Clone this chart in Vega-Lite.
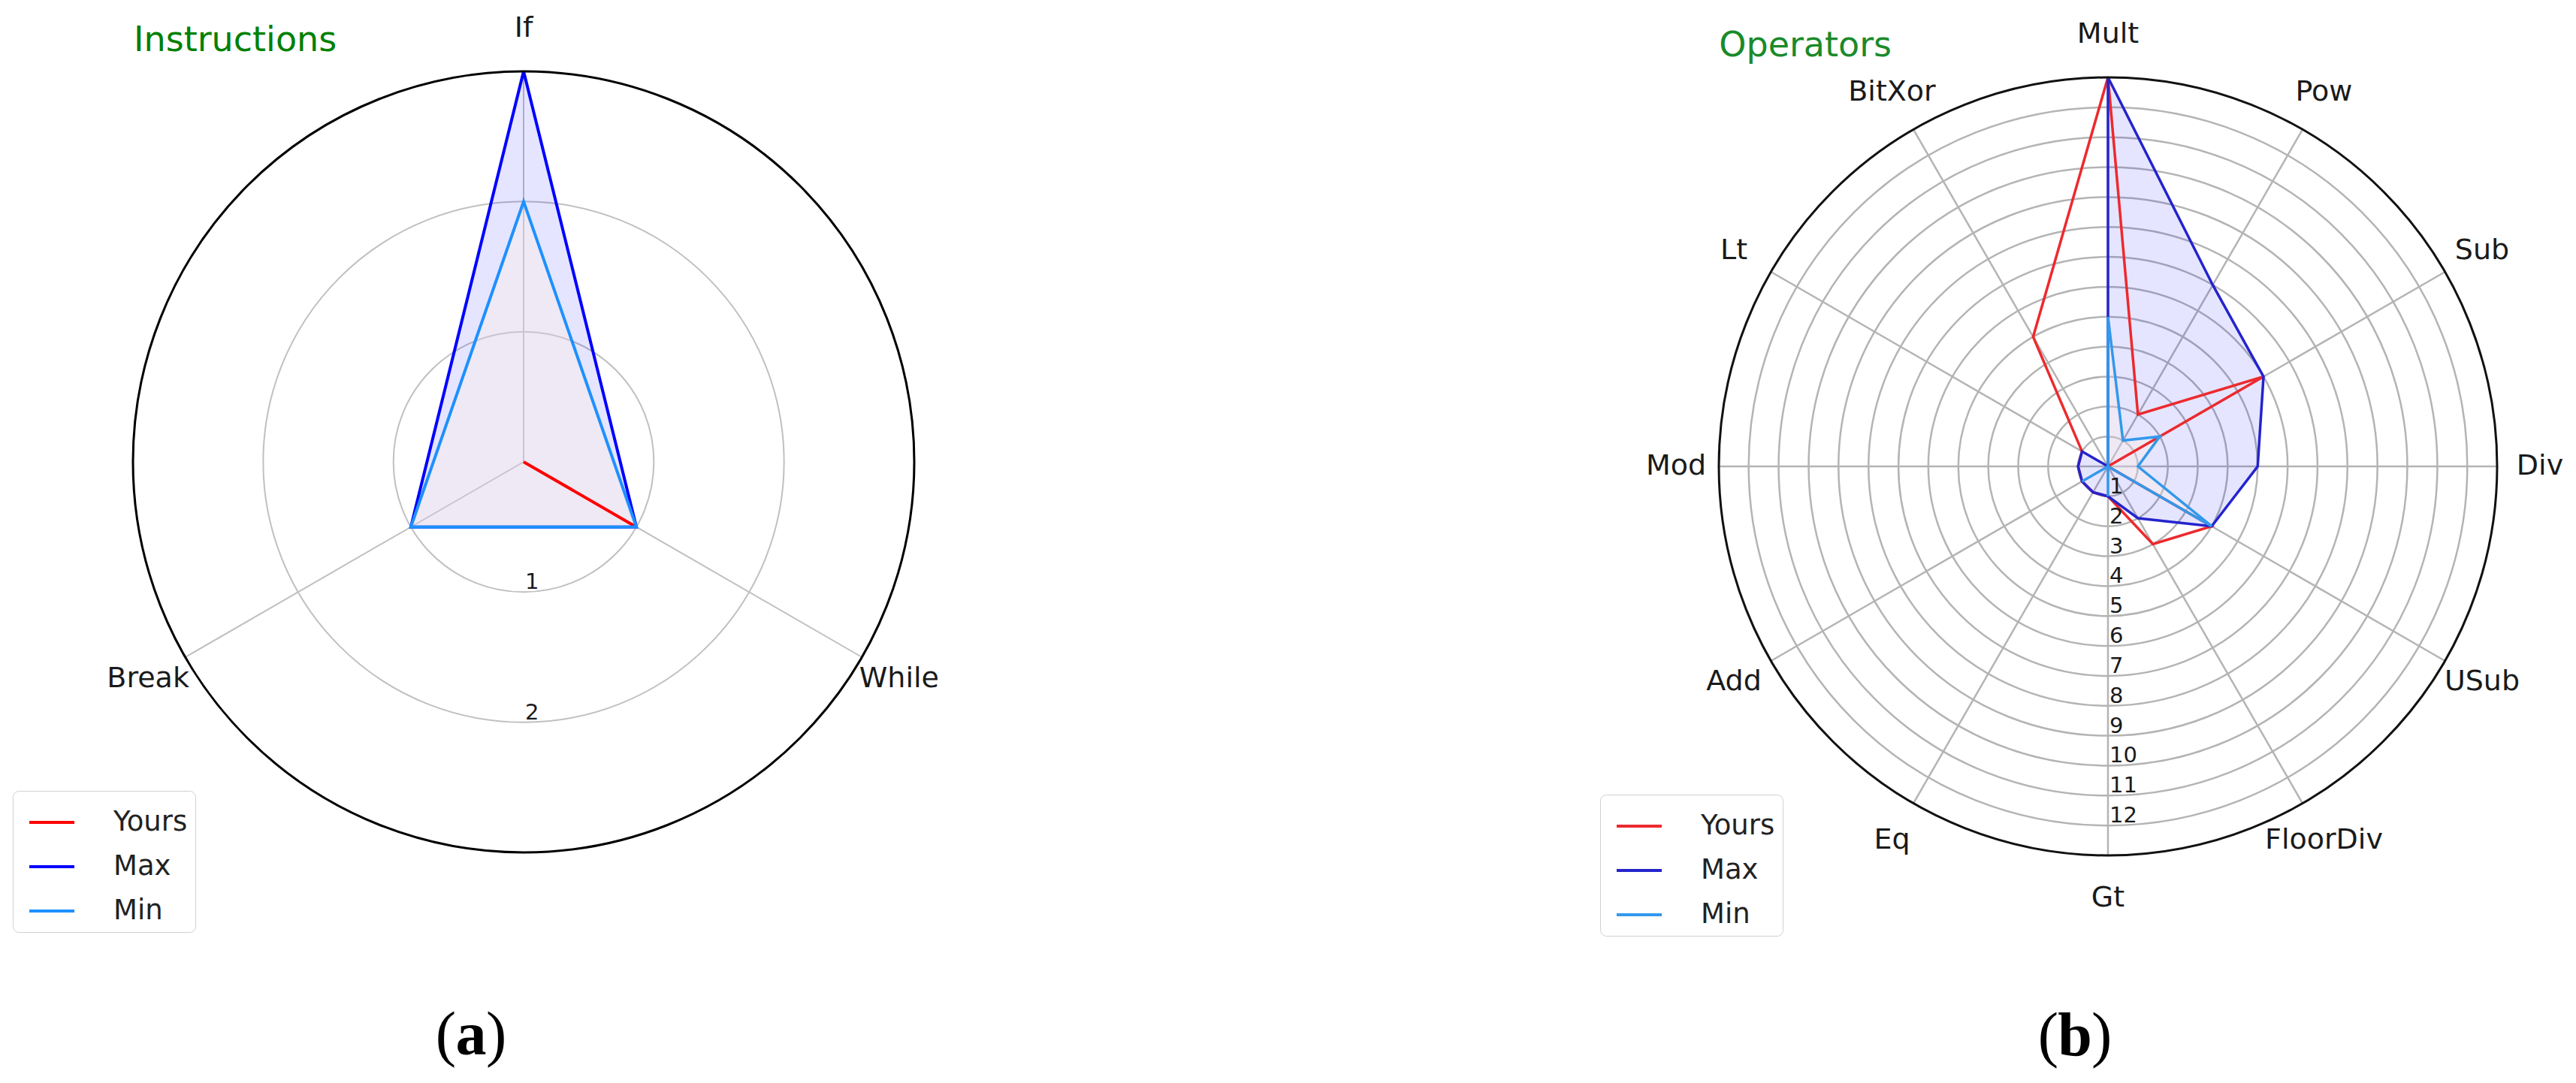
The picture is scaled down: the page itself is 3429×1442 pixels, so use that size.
{
  "$schema": "https://vega.github.io/schema/vega-lite/v6.json",
  "padding": 0,
  "spacing": 0,
  "bounds": "flush",
  "background": "white",
  "config": {"view": {"stroke": null}, "font": "DejaVu Sans"},
  "datasets": {
    "instr": [
      {"series": "Yours", "axis": "If", "value": 0},
      {"series": "Yours", "axis": "While", "value": 1},
      {"series": "Yours", "axis": "Break", "value": 0},
      {"series": "Max", "axis": "If", "value": 3},
      {"series": "Max", "axis": "While", "value": 1},
      {"series": "Max", "axis": "Break", "value": 1},
      {"series": "Min", "axis": "If", "value": 2},
      {"series": "Min", "axis": "While", "value": 1},
      {"series": "Min", "axis": "Break", "value": 1}
    ],
    "instrTicks": [{"tick": 1}, {"tick": 2}],
    "ops": [
      {"series": "Yours", "axis": "Mult", "value": 13},
      {"series": "Yours", "axis": "Pow", "value": 2},
      {"series": "Yours", "axis": "Sub", "value": 6},
      {"series": "Yours", "axis": "Div", "value": 0},
      {"series": "Yours", "axis": "USub", "value": 4},
      {"series": "Yours", "axis": "FloorDiv", "value": 3},
      {"series": "Yours", "axis": "Gt", "value": 1},
      {"series": "Yours", "axis": "Eq", "value": 1},
      {"series": "Yours", "axis": "Add", "value": 1},
      {"series": "Yours", "axis": "Mod", "value": 1},
      {"series": "Yours", "axis": "Lt", "value": 1},
      {"series": "Yours", "axis": "BitXor", "value": 5},
      {"series": "Max", "axis": "Mult", "value": 13},
      {"series": "Max", "axis": "Pow", "value": 7},
      {"series": "Max", "axis": "Sub", "value": 6},
      {"series": "Max", "axis": "Div", "value": 5},
      {"series": "Max", "axis": "USub", "value": 4},
      {"series": "Max", "axis": "FloorDiv", "value": 2},
      {"series": "Max", "axis": "Gt", "value": 1},
      {"series": "Max", "axis": "Eq", "value": 1},
      {"series": "Max", "axis": "Add", "value": 1},
      {"series": "Max", "axis": "Mod", "value": 1},
      {"series": "Max", "axis": "Lt", "value": 1},
      {"series": "Max", "axis": "BitXor", "value": 0},
      {"series": "Min", "axis": "Mult", "value": 5},
      {"series": "Min", "axis": "Pow", "value": 1},
      {"series": "Min", "axis": "Sub", "value": 2},
      {"series": "Min", "axis": "Div", "value": 1},
      {"series": "Min", "axis": "USub", "value": 4},
      {"series": "Min", "axis": "FloorDiv", "value": 0},
      {"series": "Min", "axis": "Gt", "value": 1},
      {"series": "Min", "axis": "Eq", "value": 0},
      {"series": "Min", "axis": "Add", "value": 1},
      {"series": "Min", "axis": "Mod", "value": 0},
      {"series": "Min", "axis": "Lt", "value": 0},
      {"series": "Min", "axis": "BitXor", "value": 0}
    ],
    "opsTicks": [{"tick": 1}, {"tick": 2}, {"tick": 3}, {"tick": 4}, {"tick": 5}, {"tick": 6}, {"tick": 7}, {"tick": 8}, {"tick": 9}, {"tick": 10}, {"tick": 11}, {"tick": 12}]
  },
  "resolve": {"scale": {"x": "independent", "y": "independent", "radius": "independent", "color": "independent"}, "legend": {"color": "independent"}},
  "hconcat": [
    {
      "width": 1714,
      "height": 1442,
      "layer": [
        {
          "data": {"name": "instrTicks"},
          "mark": {"type": "arc", "filled": false, "stroke": "#c0c0c0", "strokeWidth": 2, "theta": 0, "theta2": 6.2832},
          "encoding": {
            "x": {"datum": 0, "type": "quantitative", "scale": {"domain": [-4.02115, 5.86731], "nice": false, "zero": false}, "axis": null},
            "y": {"datum": 0, "type": "quantitative", "scale": {"domain": [-4.77115, 3.54808], "nice": false, "zero": false}, "axis": null},
            "radius": {"field": "tick", "type": "quantitative", "stack": null, "scale": {"type": "linear", "domain": [0, 3], "range": [0, 520], "zero": true}}
          }
        },
        {
          "data": {"name": "instr"},
          "transform": [
            {"filter": "datum.series === 'Max'"},
            {"window": [{"op": "row_number", "as": "idx"}]},
            {"calculate": "PI/2 - 2*PI*(datum.idx-1)/3", "as": "ang"},
            {"calculate": "3*cos(datum.ang)", "as": "ex"},
            {"calculate": "3*sin(datum.ang)", "as": "ey"}
          ],
          "mark": {"type": "rule", "stroke": "#c0c0c0", "strokeWidth": 2},
          "encoding": {
            "x": {"field": "ex", "type": "quantitative", "scale": {"domain": [-4.02115, 5.86731], "nice": false, "zero": false}, "axis": null},
            "y": {"field": "ey", "type": "quantitative", "scale": {"domain": [-4.77115, 3.54808], "nice": false, "zero": false}, "axis": null},
            "x2": {"datum": 0},
            "y2": {"datum": 0}
          }
        },
        {
          "data": {"name": "instr"},
          "transform": [
            {"filter": "datum.series === 'Max'"},
            {"window": [{"op": "row_number", "as": "idx"}]},
            {"calculate": "PI/2 - 2*PI*(datum.idx-1)/3", "as": "ang"},
            {"calculate": "datum.value*cos(datum.ang)", "as": "px"},
            {"calculate": "datum.value*sin(datum.ang)", "as": "py"}
          ],
          "mark": {"type": "line", "interpolate": "linear-closed", "fill": "#0000ff", "fillOpacity": 0.1, "strokeWidth": 0},
          "encoding": {
            "x": {"field": "px", "type": "quantitative", "scale": {"domain": [-4.02115, 5.86731], "nice": false, "zero": false}, "axis": null},
            "y": {"field": "py", "type": "quantitative", "scale": {"domain": [-4.77115, 3.54808], "nice": false, "zero": false}, "axis": null},
            "order": {"field": "idx", "type": "quantitative"}
          }
        },
        {
          "data": {"name": "instr"},
          "transform": [
            {"filter": "datum.series === 'Min'"},
            {"window": [{"op": "row_number", "as": "idx"}]},
            {"calculate": "PI/2 - 2*PI*(datum.idx-1)/3", "as": "ang"},
            {"calculate": "datum.value*cos(datum.ang)", "as": "px"},
            {"calculate": "datum.value*sin(datum.ang)", "as": "py"}
          ],
          "mark": {"type": "line", "interpolate": "linear-closed", "fill": "#fff0e0", "fillOpacity": 0.35, "strokeWidth": 0},
          "encoding": {
            "x": {"field": "px", "type": "quantitative", "scale": {"domain": [-4.02115, 5.86731], "nice": false, "zero": false}, "axis": null},
            "y": {"field": "py", "type": "quantitative", "scale": {"domain": [-4.77115, 3.54808], "nice": false, "zero": false}, "axis": null},
            "order": {"field": "idx", "type": "quantitative"}
          }
        },
        {
          "data": {"name": "instr"},
          "transform": [
            {"window": [{"op": "row_number", "as": "idx"}], "groupby": ["series"]},
            {"calculate": "PI/2 - 2*PI*(datum.idx-1)/3", "as": "ang"},
            {"calculate": "datum.value*cos(datum.ang)", "as": "px"},
            {"calculate": "datum.value*sin(datum.ang)", "as": "py"}
          ],
          "mark": {"type": "line", "interpolate": "linear-closed", "strokeWidth": 4},
          "encoding": {
            "x": {"field": "px", "type": "quantitative", "scale": {"domain": [-4.02115, 5.86731], "nice": false, "zero": false}, "axis": null},
            "y": {"field": "py", "type": "quantitative", "scale": {"domain": [-4.77115, 3.54808], "nice": false, "zero": false}, "axis": null},
            "order": {"field": "idx", "type": "quantitative"},
            "color": {
              "field": "series",
              "type": "nominal",
              "scale": {"domain": ["Yours", "Max", "Min"], "range": ["#ff0000", "#0000ff", "#1e90ff"]},
              "legend": {
                "orient": "none", "legendX": 17, "legendY": 1053, "title": null,
                "symbolType": "stroke", "symbolSize": 3600, "symbolStrokeWidth": 4, "symbolOffset": 10,
                "labelFontSize": 37, "labelFont": "DejaVu Sans", "labelColor": "#222222", "labelOffset": 50,
                "padding": 10, "rowPadding": 9, "strokeColor": "#d0d0d0", "fillColor": "white", "cornerRadius": 8
              }
            }
          }
        },
        {
          "data": {"values": [{"rim": 3}]},
          "mark": {"type": "arc", "filled": false, "stroke": "#000000", "strokeWidth": 3, "theta": 0, "theta2": 6.2832},
          "encoding": {
            "x": {"datum": 0, "type": "quantitative", "scale": {"domain": [-4.02115, 5.86731], "nice": false, "zero": false}, "axis": null},
            "y": {"datum": 0, "type": "quantitative", "scale": {"domain": [-4.77115, 3.54808], "nice": false, "zero": false}, "axis": null},
            "radius": {"field": "rim", "type": "quantitative", "stack": null, "scale": {"type": "linear", "domain": [0, 3], "range": [0, 520], "zero": true}}
          }
        },
        {
          "data": {"name": "instr"},
          "transform": [
            {"filter": "datum.series === 'Max'"},
            {"window": [{"op": "row_number", "as": "idx"}]},
            {"calculate": "PI/2 - 2*PI*(datum.idx-1)/3", "as": "ang"},
            {"calculate": "3.33*cos(datum.ang)", "as": "lx"},
            {"calculate": "3.33*sin(datum.ang)", "as": "ly"}
          ],
          "mark": {"type": "text", "fontSize": 38, "color": "#1a1a1a", "align": "center", "baseline": "middle"},
          "encoding": {
            "x": {"field": "lx", "type": "quantitative", "scale": {"domain": [-4.02115, 5.86731], "nice": false, "zero": false}, "axis": null},
            "y": {"field": "ly", "type": "quantitative", "scale": {"domain": [-4.77115, 3.54808], "nice": false, "zero": false}, "axis": null},
            "text": {"field": "axis", "type": "nominal"}
          }
        },
        {
          "data": {"name": "instrTicks"},
          "transform": [{"calculate": "-datum.tick", "as": "ty"}],
          "mark": {"type": "text", "fontSize": 29, "color": "#1a1a1a", "align": "left", "baseline": "alphabetic", "dx": 2, "dy": -4},
          "encoding": {
            "x": {"datum": 0, "type": "quantitative", "scale": {"domain": [-4.02115, 5.86731], "nice": false, "zero": false}, "axis": null},
            "y": {"field": "ty", "type": "quantitative", "scale": {"domain": [-4.77115, 3.54808], "nice": false, "zero": false}, "axis": null},
            "text": {"field": "tick", "type": "quantitative"}
          }
        },
        {
          "data": {"values": [{"name": "Instructions"}]},
          "mark": {"type": "text", "fontSize": 46, "color": "#008000", "align": "center", "baseline": "middle"},
          "encoding": {
            "x": {"datum": -2.215, "type": "quantitative", "scale": {"domain": [-4.02115, 5.86731], "nice": false, "zero": false}, "axis": null},
            "y": {"datum": 3.237, "type": "quantitative", "scale": {"domain": [-4.77115, 3.54808], "nice": false, "zero": false}, "axis": null},
            "text": {"field": "name", "type": "nominal"}
          }
        },
        {
          "data": {"values": [{"lp": "(", "tag": "a", "rp": ")"}]},
          "mark": {"type": "text", "font": "Liberation Serif", "fontSize": 82, "color": "#000000", "align": "right", "baseline": "alphabetic", "dx": -20},
          "encoding": {
            "x": {"datum": -0.404, "type": "quantitative", "scale": {"domain": [-4.02115, 5.86731], "nice": false, "zero": false}, "axis": null},
            "y": {"datum": -4.552, "type": "quantitative", "scale": {"domain": [-4.77115, 3.54808], "nice": false, "zero": false}, "axis": null},
            "text": {"field": "lp", "type": "nominal"}
          }
        },
        {
          "data": {"values": [{"lp": "(", "tag": "a", "rp": ")"}]},
          "mark": {"type": "text", "font": "Liberation Serif", "fontSize": 82, "fontWeight": "bold", "color": "#000000", "align": "center", "baseline": "alphabetic"},
          "encoding": {
            "x": {"datum": -0.404, "type": "quantitative", "scale": {"domain": [-4.02115, 5.86731], "nice": false, "zero": false}, "axis": null},
            "y": {"datum": -4.552, "type": "quantitative", "scale": {"domain": [-4.77115, 3.54808], "nice": false, "zero": false}, "axis": null},
            "text": {"field": "tag", "type": "nominal"}
          }
        },
        {
          "data": {"values": [{"lp": "(", "tag": "a", "rp": ")"}]},
          "mark": {"type": "text", "font": "Liberation Serif", "fontSize": 82, "color": "#000000", "align": "left", "baseline": "alphabetic", "dx": 20},
          "encoding": {
            "x": {"datum": -0.404, "type": "quantitative", "scale": {"domain": [-4.02115, 5.86731], "nice": false, "zero": false}, "axis": null},
            "y": {"datum": -4.552, "type": "quantitative", "scale": {"domain": [-4.77115, 3.54808], "nice": false, "zero": false}, "axis": null},
            "text": {"field": "rp", "type": "nominal"}
          }
        }
      ]
    },
    {
      "width": 1715,
      "height": 1442,
      "layer": [
        {
          "data": {"name": "opsTicks"},
          "mark": {"type": "arc", "filled": false, "stroke": "#b4b4b4", "strokeWidth": 2.5, "theta": 0, "theta2": 6.2832},
          "encoding": {
            "x": {"datum": 0, "type": "quantitative", "scale": {"domain": [-27.4055, 15.6352], "nice": false, "zero": false}, "axis": null},
            "y": {"datum": 0, "type": "quantitative", "scale": {"domain": [-20.6043, 15.585], "nice": false, "zero": false}, "axis": null},
            "radius": {"field": "tick", "type": "quantitative", "stack": null, "scale": {"type": "linear", "domain": [0, 13], "range": [0, 518], "zero": true}}
          }
        },
        {
          "data": {"name": "ops"},
          "transform": [
            {"filter": "datum.series === 'Max'"},
            {"window": [{"op": "row_number", "as": "idx"}]},
            {"calculate": "PI/2 - 2*PI*(datum.idx-1)/12", "as": "ang"},
            {"calculate": "13*cos(datum.ang)", "as": "ex"},
            {"calculate": "13*sin(datum.ang)", "as": "ey"}
          ],
          "mark": {"type": "rule", "stroke": "#b4b4b4", "strokeWidth": 2.5},
          "encoding": {
            "x": {"field": "ex", "type": "quantitative", "scale": {"domain": [-27.4055, 15.6352], "nice": false, "zero": false}, "axis": null},
            "y": {"field": "ey", "type": "quantitative", "scale": {"domain": [-20.6043, 15.585], "nice": false, "zero": false}, "axis": null},
            "x2": {"datum": 0},
            "y2": {"datum": 0}
          }
        },
        {
          "data": {"name": "ops"},
          "transform": [
            {"filter": "datum.series === 'Max'"},
            {"window": [{"op": "row_number", "as": "idx"}]},
            {"calculate": "PI/2 - 2*PI*(datum.idx-1)/12", "as": "ang"},
            {"calculate": "datum.value*cos(datum.ang)", "as": "px"},
            {"calculate": "datum.value*sin(datum.ang)", "as": "py"}
          ],
          "mark": {"type": "line", "interpolate": "linear-closed", "fill": "#0000ff", "fillOpacity": 0.1, "strokeWidth": 0},
          "encoding": {
            "x": {"field": "px", "type": "quantitative", "scale": {"domain": [-27.4055, 15.6352], "nice": false, "zero": false}, "axis": null},
            "y": {"field": "py", "type": "quantitative", "scale": {"domain": [-20.6043, 15.585], "nice": false, "zero": false}, "axis": null},
            "order": {"field": "idx", "type": "quantitative"}
          }
        },
        {
          "data": {"name": "ops"},
          "transform": [
            {"filter": "datum.series === 'Min'"},
            {"window": [{"op": "row_number", "as": "idx"}]},
            {"calculate": "PI/2 - 2*PI*(datum.idx-1)/12", "as": "ang"},
            {"calculate": "datum.value*cos(datum.ang)", "as": "px"},
            {"calculate": "datum.value*sin(datum.ang)", "as": "py"}
          ],
          "mark": {"type": "line", "interpolate": "linear-closed", "fill": "#fff0e0", "fillOpacity": 0.35, "strokeWidth": 0},
          "encoding": {
            "x": {"field": "px", "type": "quantitative", "scale": {"domain": [-27.4055, 15.6352], "nice": false, "zero": false}, "axis": null},
            "y": {"field": "py", "type": "quantitative", "scale": {"domain": [-20.6043, 15.585], "nice": false, "zero": false}, "axis": null},
            "order": {"field": "idx", "type": "quantitative"}
          }
        },
        {
          "data": {"name": "ops"},
          "transform": [
            {"window": [{"op": "row_number", "as": "idx"}], "groupby": ["series"]},
            {"calculate": "PI/2 - 2*PI*(datum.idx-1)/12", "as": "ang"},
            {"calculate": "datum.value*cos(datum.ang)", "as": "px"},
            {"calculate": "datum.value*sin(datum.ang)", "as": "py"}
          ],
          "mark": {"type": "line", "interpolate": "linear-closed", "strokeWidth": 3.5},
          "encoding": {
            "x": {"field": "px", "type": "quantitative", "scale": {"domain": [-27.4055, 15.6352], "nice": false, "zero": false}, "axis": null},
            "y": {"field": "py", "type": "quantitative", "scale": {"domain": [-20.6043, 15.585], "nice": false, "zero": false}, "axis": null},
            "order": {"field": "idx", "type": "quantitative"},
            "color": {
              "field": "series",
              "type": "nominal",
              "scale": {"domain": ["Yours", "Max", "Min"], "range": ["#ec2a2e", "#2424cc", "#3398ec"]},
              "legend": {
                "orient": "none", "legendX": 416, "legendY": 1058, "title": null,
                "symbolType": "stroke", "symbolSize": 3600, "symbolStrokeWidth": 4, "symbolOffset": 10,
                "labelFontSize": 37, "labelFont": "DejaVu Sans", "labelColor": "#222222", "labelOffset": 50,
                "padding": 10, "rowPadding": 9, "strokeColor": "#d0d0d0", "fillColor": "white", "cornerRadius": 8
              }
            }
          }
        },
        {
          "data": {"values": [{"rim": 13}]},
          "mark": {"type": "arc", "filled": false, "stroke": "#111111", "strokeWidth": 3, "theta": 0, "theta2": 6.2832},
          "encoding": {
            "x": {"datum": 0, "type": "quantitative", "scale": {"domain": [-27.4055, 15.6352], "nice": false, "zero": false}, "axis": null},
            "y": {"datum": 0, "type": "quantitative", "scale": {"domain": [-20.6043, 15.585], "nice": false, "zero": false}, "axis": null},
            "radius": {"field": "rim", "type": "quantitative", "stack": null, "scale": {"type": "linear", "domain": [0, 13], "range": [0, 518], "zero": true}}
          }
        },
        {
          "data": {"name": "ops"},
          "transform": [
            {"filter": "datum.series === 'Max'"},
            {"window": [{"op": "row_number", "as": "idx"}]},
            {"calculate": "PI/2 - 2*PI*(datum.idx-1)/12", "as": "ang"},
            {"calculate": "14.43*cos(datum.ang)", "as": "lx"},
            {"calculate": "14.43*sin(datum.ang)", "as": "ly"}
          ],
          "mark": {"type": "text", "fontSize": 38, "color": "#1a1a1a", "align": "center", "baseline": "middle"},
          "encoding": {
            "x": {"field": "lx", "type": "quantitative", "scale": {"domain": [-27.4055, 15.6352], "nice": false, "zero": false}, "axis": null},
            "y": {"field": "ly", "type": "quantitative", "scale": {"domain": [-20.6043, 15.585], "nice": false, "zero": false}, "axis": null},
            "text": {"field": "axis", "type": "nominal"}
          }
        },
        {
          "data": {"name": "opsTicks"},
          "transform": [{"calculate": "-datum.tick", "as": "ty"}],
          "mark": {"type": "text", "fontSize": 29, "color": "#1a1a1a", "align": "left", "baseline": "alphabetic", "dx": 2, "dy": -4},
          "encoding": {
            "x": {"datum": 0, "type": "quantitative", "scale": {"domain": [-27.4055, 15.6352], "nice": false, "zero": false}, "axis": null},
            "y": {"field": "ty", "type": "quantitative", "scale": {"domain": [-20.6043, 15.585], "nice": false, "zero": false}, "axis": null},
            "text": {"field": "tick", "type": "quantitative"}
          }
        },
        {
          "data": {"values": [{"name": "Operators"}]},
          "mark": {"type": "text", "fontSize": 46, "color": "#1a8a2a", "align": "center", "baseline": "middle"},
          "encoding": {
            "x": {"datum": -10.11, "type": "quantitative", "scale": {"domain": [-27.4055, 15.6352], "nice": false, "zero": false}, "axis": null},
            "y": {"datum": 14.05, "type": "quantitative", "scale": {"domain": [-20.6043, 15.585], "nice": false, "zero": false}, "axis": null},
            "text": {"field": "name", "type": "nominal"}
          }
        },
        {
          "data": {"values": [{"lp": "(", "tag": "b", "rp": ")"}]},
          "mark": {"type": "text", "font": "Liberation Serif", "fontSize": 82, "color": "#000000", "align": "right", "baseline": "alphabetic", "dx": -22},
          "encoding": {
            "x": {"datum": -1.104, "type": "quantitative", "scale": {"domain": [-27.4055, 15.6352], "nice": false, "zero": false}, "axis": null},
            "y": {"datum": -19.676, "type": "quantitative", "scale": {"domain": [-20.6043, 15.585], "nice": false, "zero": false}, "axis": null},
            "text": {"field": "lp", "type": "nominal"}
          }
        },
        {
          "data": {"values": [{"lp": "(", "tag": "b", "rp": ")"}]},
          "mark": {"type": "text", "font": "Liberation Serif", "fontSize": 82, "fontWeight": "bold", "color": "#000000", "align": "center", "baseline": "alphabetic"},
          "encoding": {
            "x": {"datum": -1.104, "type": "quantitative", "scale": {"domain": [-27.4055, 15.6352], "nice": false, "zero": false}, "axis": null},
            "y": {"datum": -19.676, "type": "quantitative", "scale": {"domain": [-20.6043, 15.585], "nice": false, "zero": false}, "axis": null},
            "text": {"field": "tag", "type": "nominal"}
          }
        },
        {
          "data": {"values": [{"lp": "(", "tag": "b", "rp": ")"}]},
          "mark": {"type": "text", "font": "Liberation Serif", "fontSize": 82, "color": "#000000", "align": "left", "baseline": "alphabetic", "dx": 22},
          "encoding": {
            "x": {"datum": -1.104, "type": "quantitative", "scale": {"domain": [-27.4055, 15.6352], "nice": false, "zero": false}, "axis": null},
            "y": {"datum": -19.676, "type": "quantitative", "scale": {"domain": [-20.6043, 15.585], "nice": false, "zero": false}, "axis": null},
            "text": {"field": "rp", "type": "nominal"}
          }
        }
      ]
    }
  ]
}
